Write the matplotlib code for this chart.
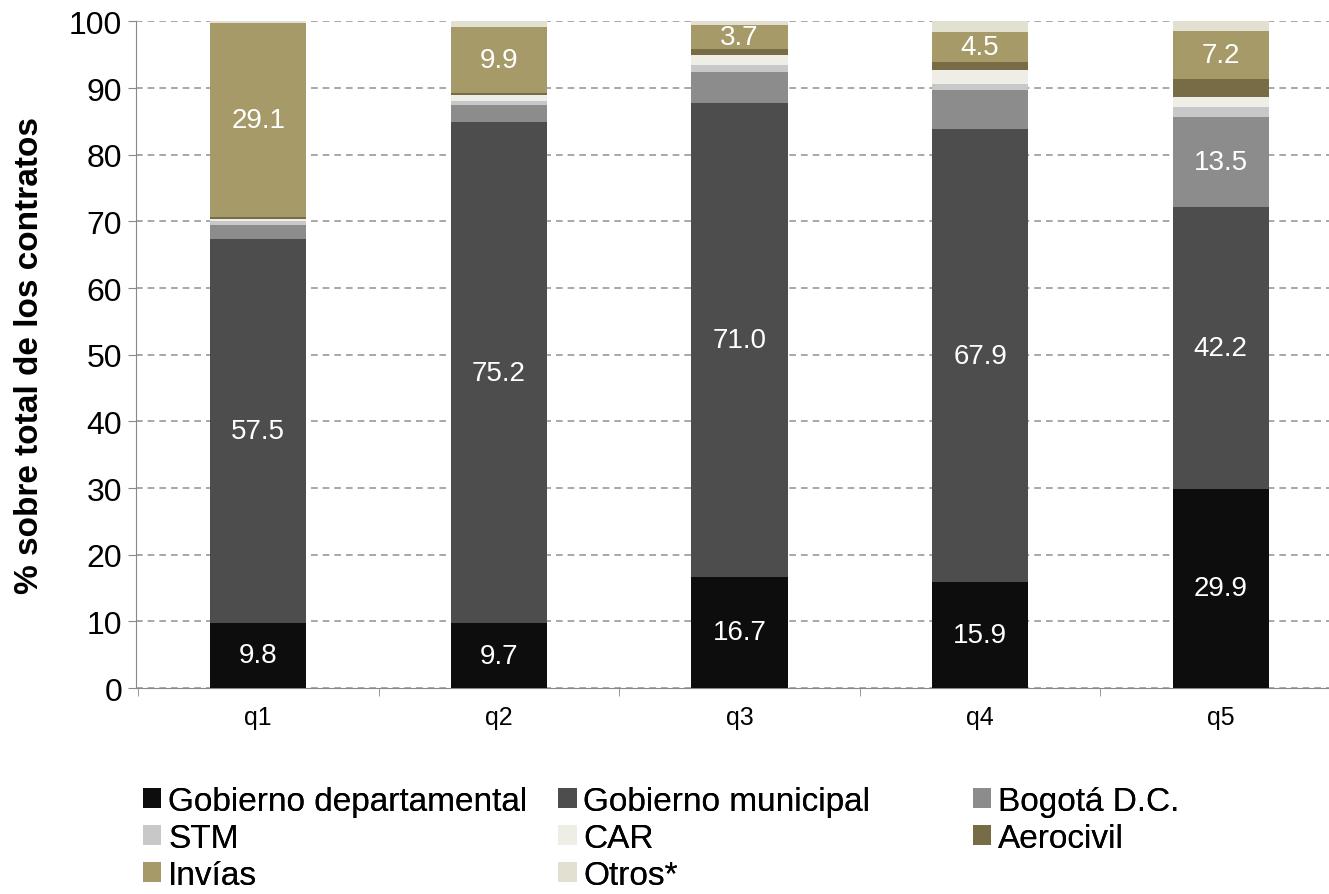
import numpy as np
import matplotlib.pyplot as plt

plt.rcParams['font.family'] = ['Liberation Sans', 'DejaVu Sans']

categories = ['q1', 'q2', 'q3', 'q4', 'q5']
series_names = ['Gobierno departamental', 'Gobierno municipal', 'Bogotá D.C.', 'STM',
                'CAR', 'Aerocivil', 'Invías', 'Otros*']

dept = [9.8, 9.7, 16.7, 15.9, 29.9]
mun = [57.5, 75.2, 71.0, 67.9, 42.2]
bogota = [2.2, 2.5, 4.7, 5.9, 13.5]
stm = [0.6, 0.7, 1.0, 0.9, 1.5]
car = [0.3, 0.8, 1.5, 2.1, 1.6]
aero = [0.2, 0.3, 0.9, 1.2, 2.7]
invias = [29.1, 9.9, 3.7, 4.5, 7.2]
otros = [0.3, 0.9, 0.5, 1.6, 1.4]

# which series get value labels
labeled = {'Gobierno departamental', 'Gobierno municipal', 'Invías'}
labeled_q5 = {'Bogotá D.C.'}

colors = ['#0d0d0d', '#4d4d4d', '#8c8c8c', '#c8c8c8', '#eeeee6', '#786c46', '#a59a68', '#e2e0d0']

data = [dept, mun, bogota, stm, car, aero, invias, otros]

fig = plt.figure(figsize=(13.29, 8.95), dpi=100)
ax = fig.add_axes([0.102, 0.23, 0.898, 0.745])

x = np.arange(len(categories))
bottom = np.zeros(len(categories))
handles = []
for name, vals, c in zip(series_names, data, colors):
    vals = np.array(vals)
    h = ax.bar(x, vals, width=0.4, bottom=bottom, color=c, label=name, zorder=3)
    handles.append(h)
    for i, v in enumerate(vals):
        if name in labeled or (name in labeled_q5 and i == 4):
            ax.text(x[i], bottom[i] + v / 2, '{:.1f}'.format(v), ha='center', va='center',
                    color='white', fontsize=20, zorder=4)
    bottom += vals

ax.set_ylim(0, 100)
ax.set_xlim(-0.51, 4.45)
ax.set_yticks(range(0, 101, 10))
ax.set_xticks(x)
ax.set_xticklabels(categories)
ax.set_xticks(np.arange(-0.5, 4.5, 1), minor=True)
ax.tick_params(axis='x', which='major', length=0, labelsize=18, pad=12)
ax.tick_params(axis='x', which='minor', length=6, color='#888888')
ax.tick_params(axis='y', labelsize=23, length=6, color='#888888')
ax.yaxis.grid(True, linestyle=(0, (4, 3)), color='#999999', linewidth=1.2, zorder=0)
for s in ['top', 'right']:
    ax.spines[s].set_visible(False)
for s in ['left', 'bottom']:
    ax.spines[s].set_color('#888888')
ax.set_ylabel('% sobre total de los contratos', fontsize=24, fontweight='bold')
ax.yaxis.set_label_coords(-0.076, 0.5)

# legend: three columns, each its own legend so spacing matches
cols = [[0, 3, 6], [1, 4, 7], [2, 5]]
xpos = [0.1076, 0.420, 0.732]
for col, xp in zip(cols, xpos):
    leg = fig.legend([handles[i] for i in col], [series_names[i] for i in col],
                     loc='upper left', bbox_to_anchor=(xp, 0.121), ncol=1, frameon=False,
                     fontsize=24, handlelength=0.55, handleheight=0.55, handletextpad=0.2,
                     labelspacing=0.18, borderaxespad=0, borderpad=0)
    fig.add_artist(leg)

fig.savefig('out.png', dpi=100)
